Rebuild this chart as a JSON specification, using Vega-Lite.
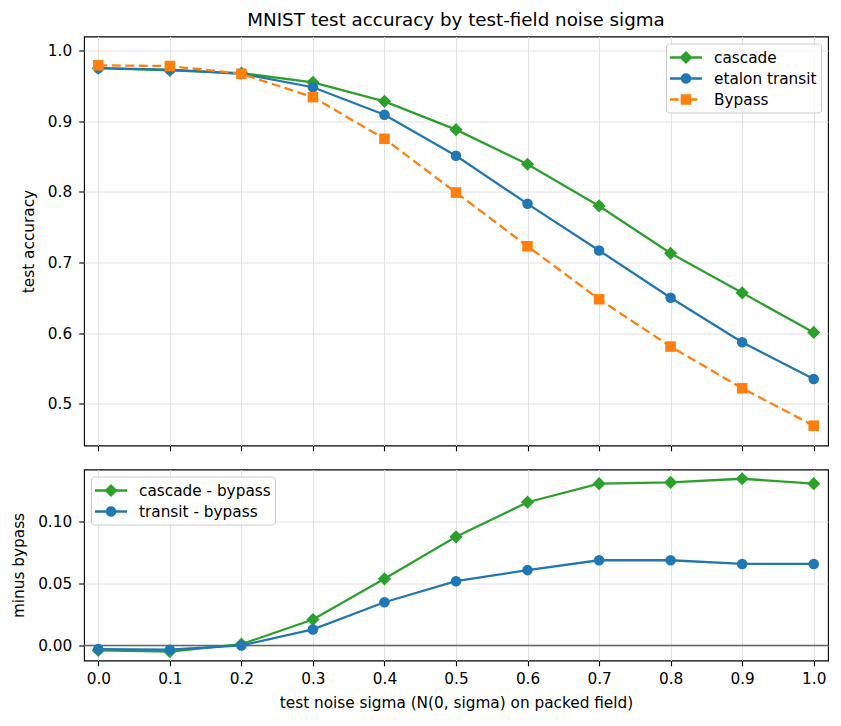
{
  "$schema": "https://vega.github.io/schema/vega-lite/v6.json",
  "description": "MNIST test accuracy versus test-time noise sigma, with differences against the bypass run below.",
  "padding": {"left": 11, "top": 10.5, "right": 10, "bottom": 4},
  "datasets": {
    "accuracy": [
      {"sigma": 0.0, "series": "cascade", "acc": 0.975},
      {"sigma": 0.1, "series": "cascade", "acc": 0.972},
      {"sigma": 0.2, "series": "cascade", "acc": 0.968},
      {"sigma": 0.3, "series": "cascade", "acc": 0.955},
      {"sigma": 0.4, "series": "cascade", "acc": 0.928},
      {"sigma": 0.5, "series": "cascade", "acc": 0.888},
      {"sigma": 0.6, "series": "cascade", "acc": 0.839},
      {"sigma": 0.7, "series": "cascade", "acc": 0.780},
      {"sigma": 0.8, "series": "cascade", "acc": 0.713},
      {"sigma": 0.9, "series": "cascade", "acc": 0.657},
      {"sigma": 1.0, "series": "cascade", "acc": 0.601},
      {"sigma": 0.0, "series": "etalon transit", "acc": 0.975},
      {"sigma": 0.1, "series": "etalon transit", "acc": 0.973},
      {"sigma": 0.2, "series": "etalon transit", "acc": 0.967},
      {"sigma": 0.3, "series": "etalon transit", "acc": 0.948},
      {"sigma": 0.4, "series": "etalon transit", "acc": 0.909},
      {"sigma": 0.5, "series": "etalon transit", "acc": 0.851},
      {"sigma": 0.6, "series": "etalon transit", "acc": 0.783},
      {"sigma": 0.7, "series": "etalon transit", "acc": 0.717},
      {"sigma": 0.8, "series": "etalon transit", "acc": 0.650},
      {"sigma": 0.9, "series": "etalon transit", "acc": 0.587},
      {"sigma": 1.0, "series": "etalon transit", "acc": 0.535},
      {"sigma": 0.0, "series": "Bypass", "acc": 0.979},
      {"sigma": 0.1, "series": "Bypass", "acc": 0.978},
      {"sigma": 0.2, "series": "Bypass", "acc": 0.967},
      {"sigma": 0.3, "series": "Bypass", "acc": 0.934},
      {"sigma": 0.4, "series": "Bypass", "acc": 0.875},
      {"sigma": 0.5, "series": "Bypass", "acc": 0.799},
      {"sigma": 0.6, "series": "Bypass", "acc": 0.723},
      {"sigma": 0.7, "series": "Bypass", "acc": 0.648},
      {"sigma": 0.8, "series": "Bypass", "acc": 0.581},
      {"sigma": 0.9, "series": "Bypass", "acc": 0.522},
      {"sigma": 1.0, "series": "Bypass", "acc": 0.469}
    ],
    "delta": [
      {"sigma": 0.0, "series": "cascade - bypass", "diff": -0.004},
      {"sigma": 0.1, "series": "cascade - bypass", "diff": -0.005},
      {"sigma": 0.2, "series": "cascade - bypass", "diff": 0.001},
      {"sigma": 0.3, "series": "cascade - bypass", "diff": 0.021},
      {"sigma": 0.4, "series": "cascade - bypass", "diff": 0.054},
      {"sigma": 0.5, "series": "cascade - bypass", "diff": 0.088},
      {"sigma": 0.6, "series": "cascade - bypass", "diff": 0.116},
      {"sigma": 0.7, "series": "cascade - bypass", "diff": 0.131},
      {"sigma": 0.8, "series": "cascade - bypass", "diff": 0.132},
      {"sigma": 0.9, "series": "cascade - bypass", "diff": 0.135},
      {"sigma": 1.0, "series": "cascade - bypass", "diff": 0.131},
      {"sigma": 0.0, "series": "transit - bypass", "diff": -0.003},
      {"sigma": 0.1, "series": "transit - bypass", "diff": -0.0035},
      {"sigma": 0.2, "series": "transit - bypass", "diff": 0.0},
      {"sigma": 0.3, "series": "transit - bypass", "diff": 0.013},
      {"sigma": 0.4, "series": "transit - bypass", "diff": 0.035},
      {"sigma": 0.5, "series": "transit - bypass", "diff": 0.052},
      {"sigma": 0.6, "series": "transit - bypass", "diff": 0.061},
      {"sigma": 0.7, "series": "transit - bypass", "diff": 0.069},
      {"sigma": 0.8, "series": "transit - bypass", "diff": 0.069},
      {"sigma": 0.9, "series": "transit - bypass", "diff": 0.066},
      {"sigma": 1.0, "series": "transit - bypass", "diff": 0.066}
    ]
  },
  "spacing": 16,
  "resolve": {"scale": {"color": "independent", "shape": "independent"}},
  "vconcat": [
    {
      "title": {
        "text": "MNIST test accuracy by test-field noise sigma",
        "anchor": "middle",
        "frame": "group",
        "offset": 6
      },
      "width": 744,
      "height": 409,
      "data": {"name": "accuracy"},
      "encoding": {
        "x": {
          "field": "sigma",
          "type": "quantitative",
          "scale": {"domain": [-0.02, 1.02], "nice": false, "zero": false},
          "axis": {"values": [0, 0.1, 0.2, 0.3, 0.4, 0.5, 0.6, 0.7, 0.8, 0.9, 1.0], "labels": false, "title": null}
        },
        "y": {
          "field": "acc",
          "type": "quantitative",
          "scale": {"domain": [0.441, 1.0198], "nice": false, "zero": false},
          "axis": {"values": [0.5, 0.6, 0.7, 0.8, 0.9, 1.0], "format": ".1f", "title": "test accuracy"}
        }
      },
      "layer": [
        {
          "transform": [{"filter": "datum.series == 'cascade'"}],
          "mark": {"type": "line", "color": "#2ca02c", "strokeWidth": 2.3, "point": {"filled": true, "opacity": 1, "color": "#2ca02c", "shape": "diamond", "size": 175}}
        },
        {
          "transform": [{"filter": "datum.series == 'etalon transit'"}],
          "mark": {"type": "line", "color": "#1f77b4", "strokeWidth": 2.3, "point": {"filled": true, "opacity": 1, "color": "#1f77b4", "shape": "circle", "size": 112}}
        },
        {
          "transform": [{"filter": "datum.series == 'Bypass'"}],
          "mark": {"type": "line", "color": "#ff7f0e", "strokeWidth": 2.3, "strokeDash": [9, 4.5], "point": {"filled": true, "opacity": 1, "color": "#ff7f0e", "shape": "square", "size": 112}}
        },
        {
          "mark": {"type": "point", "filled": true, "opacity": 0},
          "encoding": {
            "color": {
              "field": "series",
              "type": "nominal",
              "scale": {"domain": ["cascade", "etalon transit", "Bypass"], "range": ["#2ca02c", "#1f77b4", "#ff7f0e"]},
              "legend": {"title": null, "orient": "top-right"}
            },
            "shape": {
              "field": "series",
              "type": "nominal",
              "scale": {
                "domain": ["cascade", "etalon transit", "Bypass"],
                "range": [
                  "M-1,-0.115L2.2,-0.115L2.2,0.115L-1,0.115Z M0.6,-0.66L1.26,0L0.6,0.66L-0.06,0Z",
                  "M-1,-0.115L2.2,-0.115L2.2,0.115L-1,0.115Z M1.13,0L1.09,0.203L0.975,0.375L0.803,0.49L0.6,0.53L0.397,0.49L0.225,0.375L0.11,0.203L0.07,0L0.11,-0.203L0.225,-0.375L0.397,-0.49L0.6,-0.53L0.803,-0.49L0.975,-0.375L1.09,-0.203Z",
                  "M-1,-0.115L-0.13,-0.115L-0.13,0.115L-1,0.115Z M0.07,-0.53L1.13,-0.53L1.13,0.53L0.07,0.53Z M1.13,-0.115L1.73,-0.115L1.73,0.115L1.13,0.115Z"
                ]
              },
              "legend": {"title": null, "orient": "top-right"}
            }
          }
        }
      ]
    },
    {
      "width": 744,
      "height": 191,
      "layer": [
        {
          "data": {"values": [{}]},
          "mark": {"type": "rule", "color": "#666666", "strokeWidth": 1.5},
          "encoding": {
            "x": {"datum": -0.02, "type": "quantitative"},
            "x2": {"datum": 1.02},
            "y": {"datum": 0, "type": "quantitative"}
          }
        },
        {
          "data": {"name": "delta"},
          "layer": [
            {
              "transform": [{"filter": "datum.series == 'cascade - bypass'"}],
              "mark": {"type": "line", "color": "#2ca02c", "strokeWidth": 2.3, "point": {"filled": true, "opacity": 1, "color": "#2ca02c", "shape": "diamond", "size": 175}}
            },
            {
              "transform": [{"filter": "datum.series == 'transit - bypass'"}],
              "mark": {"type": "line", "color": "#1f77b4", "strokeWidth": 2.3, "point": {"filled": true, "opacity": 1, "color": "#1f77b4", "shape": "circle", "size": 112}}
            },
            {
              "mark": {"type": "point", "filled": true, "opacity": 0},
              "encoding": {
                "color": {
                  "field": "series",
                  "type": "nominal",
                  "scale": {"domain": ["cascade - bypass", "transit - bypass"], "range": ["#2ca02c", "#1f77b4"]},
                  "legend": {"title": null, "orient": "top-left"}
                },
                "shape": {
                  "field": "series",
                  "type": "nominal",
                  "scale": {
                    "domain": ["cascade - bypass", "transit - bypass"],
                    "range": [
                      "M-1,-0.115L2.2,-0.115L2.2,0.115L-1,0.115Z M0.6,-0.66L1.26,0L0.6,0.66L-0.06,0Z",
                      "M-1,-0.115L2.2,-0.115L2.2,0.115L-1,0.115Z M1.13,0L1.09,0.203L0.975,0.375L0.803,0.49L0.6,0.53L0.397,0.49L0.225,0.375L0.11,0.203L0.07,0L0.11,-0.203L0.225,-0.375L0.397,-0.49L0.6,-0.53L0.803,-0.49L0.975,-0.375L1.09,-0.203Z"
                    ]
                  },
                  "legend": {"title": null, "orient": "top-left"}
                }
              }
            }
          ],
          "encoding": {
            "x": {
              "field": "sigma",
              "type": "quantitative",
              "scale": {"domain": [-0.02, 1.02], "nice": false, "zero": false},
              "axis": {"values": [0, 0.1, 0.2, 0.3, 0.4, 0.5, 0.6, 0.7, 0.8, 0.9, 1.0], "format": ".1f", "title": "test noise sigma (N(0, sigma) on packed field)"}
            },
            "y": {
              "field": "diff",
              "type": "quantitative",
              "scale": {"domain": [-0.0122, 0.1425], "nice": false, "zero": false},
              "axis": {"values": [0, 0.05, 0.1], "format": ".2f", "title": "minus bypass"}
            }
          }
        }
      ]
    }
  ],
  "config": {
    "font": "DejaVu Sans",
    "view": {"stroke": "black", "strokeWidth": 1.1},
    "axis": {
      "domain": false,
      "grid": true,
      "gridColor": "#e2e2e2",
      "gridWidth": 1,
      "tickColor": "black",
      "tickSize": 5.3,
      "tickWidth": 1.1,
      "labelColor": "black",
      "labelFont": "DejaVu Sans",
      "labelFontSize": 15.3,
      "labelFlush": false,
      "titleColor": "black",
      "titleFont": "DejaVu Sans",
      "titleFontSize": 15.3,
      "titleFontWeight": "normal"
    },
    "axisX": {"labelPadding": 6, "titlePadding": 8},
    "axisY": {"labelPadding": 7, "titlePadding": 11},
    "legend": {
      "labelFont": "DejaVu Sans",
      "labelFontSize": 15.3,
      "labelColor": "black",
      "labelOffset": 24,
      "symbolSize": 400,
      "symbolStrokeWidth": 0,
      "symbolOpacity": 1,
      "rowPadding": 2,
      "padding": 4,
      "offset": 7,
      "fillColor": "rgba(255,255,255,0.8)",
      "strokeColor": "#cccccc",
      "cornerRadius": 3
    },
    "title": {"font": "DejaVu Sans", "fontSize": 18.3, "fontWeight": "normal", "color": "black"}
  }
}
